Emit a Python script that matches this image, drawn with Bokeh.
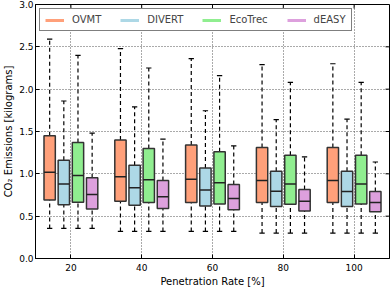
from bokeh.plotting import figure
from bokeh.models import ColumnDataSource, FixedTicker, Legend, LegendItem, Range1d, NumeralTickFormatter
from bokeh.embed import file_html
from bokeh.resources import INLINE
import numpy as np

rates = [20, 40, 60, 80, 100]
series = ["OVMT", "DIVERT", "EcoTrec", "dEASY"]
colors = ["#FFA07A", "#ADD8E6", "#90EE90", "#DDA0DD"]

ovmt_upper = [2.59, 2.48, 2.36, 2.29, 2.30]
ovmt_q3 = [1.45, 1.40, 1.34, 1.31, 1.31]
ovmt_med = [1.02, 0.965, 0.935, 0.92, 0.92]
ovmt_q1 = [0.69, 0.675, 0.66, 0.66, 0.66]
ovmt_lower = [0.355, 0.32, 0.32, 0.30, 0.30]

divert_upper = [1.86, 1.79, 1.745, 1.64, 1.645]
divert_q3 = [1.16, 1.10, 1.07, 1.03, 1.03]
divert_med = [0.88, 0.835, 0.81, 0.795, 0.79]
divert_q1 = [0.635, 0.63, 0.62, 0.615, 0.615]
divert_lower = [0.355, 0.32, 0.32, 0.30, 0.30]

ecotrec_upper = [2.40, 2.25, 2.16, 2.08, 2.08]
ecotrec_q3 = [1.37, 1.30, 1.26, 1.22, 1.22]
ecotrec_med = [0.98, 0.93, 0.895, 0.88, 0.88]
ecotrec_q1 = [0.665, 0.66, 0.645, 0.64, 0.645]
ecotrec_lower = [0.355, 0.32, 0.32, 0.30, 0.30]

deasy_upper = [1.48, 1.41, 1.33, 1.20, 1.14]
deasy_q3 = [0.955, 0.92, 0.875, 0.815, 0.79]
deasy_med = [0.755, 0.73, 0.71, 0.675, 0.66]
deasy_q1 = [0.585, 0.59, 0.575, 0.56, 0.553]
deasy_lower = [0.355, 0.32, 0.32, 0.30, 0.30]

stats = {
    "OVMT": (ovmt_lower, ovmt_q1, ovmt_med, ovmt_q3, ovmt_upper),
    "DIVERT": (divert_lower, divert_q1, divert_med, divert_q3, divert_upper),
    "EcoTrec": (ecotrec_lower, ecotrec_q1, ecotrec_med, ecotrec_q3, ecotrec_upper),
    "dEASY": (deasy_lower, deasy_q1, deasy_med, deasy_q3, deasy_upper),
}
y_ticks = [0.0, 0.5, 1.0, 1.5, 2.0, 2.5, 3.0]
x_lo, x_hi = 10, 110
y_lo, y_hi = 0.0, 3.0

FONT = "DejaVu Sans"

p = figure(width=390, height=289, output_backend="svg", toolbar_location=None,
           x_range=Range1d(x_lo, x_hi), y_range=Range1d(y_lo, y_hi))
p.min_border_left = 0
p.min_border_right = 1
p.min_border_top = 4
p.min_border_bottom = 0
p.background_fill_color = "white"
p.border_fill_color = "white"
p.outline_line_color = "black"
p.outline_line_width = 1

p.xaxis.ticker = FixedTicker(ticks=rates)
p.yaxis.ticker = FixedTicker(ticks=y_ticks)
p.yaxis.formatter = NumeralTickFormatter(format="0.0")
for ax in (p.xaxis[0], p.yaxis[0]):
    ax.major_tick_in = 4
    ax.major_tick_out = 0
    ax.major_tick_line_color = "black"
    ax.minor_tick_line_color = None
    ax.axis_line_color = "black"
    ax.major_label_text_font = FONT
    ax.major_label_text_font_size = "9px"
    ax.major_label_text_color = "black"
    ax.axis_label_text_font = FONT
    ax.axis_label_text_font_size = "10px"
    ax.axis_label_text_font_style = "normal"
    ax.axis_label_text_color = "black"
p.xaxis.axis_label = "Penetration Rate [%]"
p.yaxis.axis_label = "CO\u2082 Emissions [kilograms]"
p.xaxis.axis_label_standoff = 2
p.yaxis.axis_label_standoff = 2
p.xaxis.major_label_standoff = 5
p.yaxis.major_label_standoff = 2

# inward ticks on the top and right spines
p.ray(x=rates, y=[y_hi] * len(rates), length=4, length_units="screen",
      angle=-np.pi / 2, line_color="black", line_width=1)
p.ray(x=[x_hi] * len(y_ticks), y=y_ticks, length=4, length_units="screen",
      angle=np.pi, line_color="black", line_width=1)

p.grid.grid_line_color = "#555555"
p.grid.grid_line_dash = "1 2"
p.grid.grid_line_width = 1
p.xgrid.ticker = FixedTicker(ticks=rates)
p.ygrid.ticker = FixedTicker(ticks=y_ticks)

offsets = [-6, -2, 2, 6]
box_w = 3.2
cap_w = 1.5
items = []
for name, col, off in zip(series, colors, offsets):
    lo, q1, med, q3, up = stats[name]
    x = np.array(rates, dtype=float) + off
    src = ColumnDataSource(dict(x=x, lo=lo, q1=q1, med=med, q3=q3, up=up,
                                xl=x - box_w / 2, xr=x + box_w / 2,
                                cl=x - cap_w / 2, cr=x + cap_w / 2))
    p.segment(x0="x", y0="q3", x1="x", y1="up", source=src, line_color="black",
              line_width=1.2, line_dash="4 3")
    p.segment(x0="x", y0="lo", x1="x", y1="q1", source=src, line_color="black",
              line_width=1.2, line_dash="4 3")
    p.segment(x0="cl", y0="up", x1="cr", y1="up", source=src, line_color="black", line_width=1.2)
    p.segment(x0="cl", y0="lo", x1="cr", y1="lo", source=src, line_color="black", line_width=1.2)
    p.vbar(x="x", width=box_w, bottom="q1", top="q3", source=src, fill_color=col,
           line_color="#333333", line_width=1.5)
    p.segment(x0="xl", y0="med", x1="xr", y1="med", source=src, line_color="#222222", line_width=1.5)
    # legend proxy: a line with no visible points
    r = p.line(x=[rates[0]], y=[np.nan], line_color=col, line_width=3)
    items.append(LegendItem(label=name, renderers=[r]))

legend = Legend(items=items, orientation="horizontal", location="top_left")
legend.glyph_width = 19
legend.glyph_height = 10
legend.label_standoff = 8
legend.spacing = 19
legend.padding = 5
legend.margin = 4
legend.label_text_font = FONT
legend.label_text_font_size = "10px"
legend.label_height = 10
legend.border_line_color = "black"
legend.border_line_width = 1
legend.background_fill_alpha = 1.0
p.add_layout(legend, "center")

open("out.html", "w").write(file_html(p, INLINE))
